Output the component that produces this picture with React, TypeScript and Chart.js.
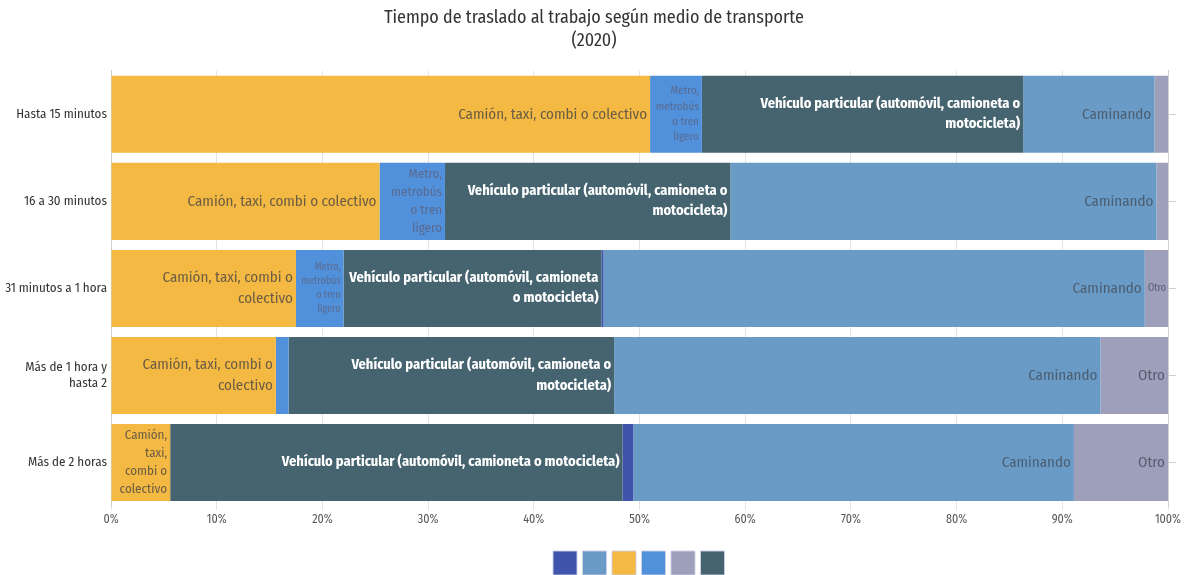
import React, { useEffect, useRef } from 'react';
import { Chart, registerables } from 'chart.js';

Chart.register(...registerables);

const FONT = "'Fira Sans Condensed', 'Liberation Sans Narrow', 'DejaVu Sans Condensed', 'Roboto Condensed', Roboto, sans-serif";

const titleLines = ['Tiempo de traslado al trabajo según medio de transporte', '(2020)'];
const categories = [
  'Hasta 15 minutos',
  '16 a 30 minutos',
  '31 minutos a 1 hora',
  ['Más de 1 hora y', 'hasta 2'],
  'Más de 2 horas',
];

const seriesNames = [
  'Camión, taxi, combi o colectivo',
  'Metro, metrobús o tren ligero',
  'Vehículo particular (automóvil, camioneta o motocicleta)',
  'Bicicleta',
  'Caminando',
  'Otro',
];

const camion = [51.0, 25.4, 17.5, 15.6, 5.6];
const metro = [4.9, 6.2, 4.5, 1.2, 0.0];
const vehiculo = [30.4, 27.0, 24.4, 30.8, 42.8];
const bicicleta = [0.0, 0.0, 0.2, 0.0, 1.0];
const caminando = [12.4, 40.3, 51.2, 46.0, 41.7];
const otro = [1.3, 1.1, 2.2, 6.4, 8.9];

const seriesValues = [camion, metro, vehiculo, bicicleta, caminando, otro];
const legendOrder = ['Bicicleta', 'Caminando', 'Camión, taxi, combi o colectivo', 'Metro, metrobús o tren ligero', 'Otro', 'Vehículo particular (automóvil, camioneta o motocicleta)'];

const colors = ['#f4b942', '#5190db', '#466470', '#3f55ad', '#6a9bc6', '#9d9fbb'];
const labelColors = ['#6b5d45', '#5a6b8f', '#ffffff', '#ffffff', '#4b5e72', '#585b6e'];
const labelWeights = ['400', '400', 'bold', '400', '400', '400'];
const labelMaxSizes = [15, 15, 14.4, 15, 15, 15];

function wrapText(ctx: CanvasRenderingContext2D, text: string, maxW: number): string[] | null {
  const words = text.split(' ');
  const lines: string[] = [];
  let cur = '';
  for (const w of words) {
    if (ctx.measureText(w).width > maxW) return null;
    const test = cur ? cur + ' ' + w : w;
    if (ctx.measureText(test).width <= maxW) {
      cur = test;
    } else {
      lines.push(cur);
      cur = w;
    }
  }
  if (cur) lines.push(cur);
  return lines;
}

const segLabels = {
  id: 'segLabels',
  afterDatasetsDraw(chart: any) {
    const ctx: CanvasRenderingContext2D = chart.ctx;
    chart.data.datasets.forEach((ds: any, i: number) => {
      const meta = chart.getDatasetMeta(i);
      if (meta.hidden) return;
      meta.data.forEach((el: any, j: number) => {
        const v = ds.data[j];
        if (!v) return;
        const p = el.getProps(['x', 'base', 'y', 'height'], true);
        const left = Math.min(p.x, p.base);
        const right = Math.max(p.x, p.base);
        const w = right - left;
        const pad = w < 40 ? 2 : 3;
        if (w - 2 * pad < 8) return;
        const sizes = [labelMaxSizes[i], 14, 13, 12, 11, 10, 9].filter((s, k, arr) => s <= labelMaxSizes[i] && arr.indexOf(s) === k);
        for (const size of sizes) {
          ctx.font = `${labelWeights[i]} ${size}px ${FONT}`;
          const lines = wrapText(ctx, ds.label, w - 2 * pad);
          if (!lines) continue;
          const lh = size * 1.4;
          if (lines.length * lh > p.height - 2) continue;
          ctx.save();
          ctx.fillStyle = labelColors[i];
          ctx.textAlign = 'right';
          ctx.textBaseline = 'middle';
          const startY = p.y - ((lines.length - 1) * lh) / 2;
          lines.forEach((ln, k) => {
            ctx.fillText(ln, right - pad, startY + k * lh);
          });
          ctx.restore();
          break;
        }
      });
    });
  },
};

export default function App() {
  const ref = useRef<HTMLCanvasElement>(null);
  useEffect(() => {
    if (!ref.current) return;
    Chart.defaults.font.family = FONT;
    const chart = new Chart(ref.current, {
      type: 'bar',
      data: {
        labels: categories as any,
        datasets: seriesNames.map((name, i) => ({
          label: name,
          data: seriesValues[i],
          backgroundColor: colors[i],
          borderWidth: 0,
          barPercentage: 0.885,
          categoryPercentage: 1,
        })),
      },
      options: {
        indexAxis: 'y',
        responsive: false,
        animation: false,
        layout: { padding: 0 },
        scales: {
          x: {
            stacked: true,
            min: 0,
            max: 100,
            ticks: {
              stepSize: 10,
              callback: (v: any) => v + '%',
              font: { size: 12 },
              color: '#555',
              padding: 2,
            },
            grid: { color: '#e3e3e3', tickLength: 4 },
            border: { display: false },
            afterFit: (s: any) => { s.height = 41; },
          },
          y: {
            stacked: true,
            ticks: { font: { size: 13 }, color: '#333', padding: 4 },
            grid: { display: false, drawTicks: false, tickLength: 0 },
            border: { display: true, color: '#d0d0d0' },
            afterFit: (s: any) => { s.width = 111; },
          },
          y2: {
            type: 'category',
            labels: categories as any,
            position: 'right',
            offset: true,
            ticks: { display: false },
            grid: { drawOnChartArea: false, offset: false, tickLength: 8, color: '#d0d0d0' },
            border: { display: true, color: '#d0d0d0' },
            afterFit: (s: any) => { s.width = 20; },
          },
        },
        plugins: {
          title: {
            display: true,
            text: titleLines,
            color: '#333',
            font: { size: 18, weight: 'normal', lineHeight: 1.3 },
            padding: { top: 6, bottom: 18 },
          },
          tooltip: { enabled: false },
          legend: {
            display: true,
            position: 'bottom',
            fullSize: false,
            labels: {
              boxWidth: 24,
              boxHeight: 24,
              padding: 4,
              font: { size: 3 },
              sort: (a: any, b: any) =>
                legendOrder.indexOf(seriesNames[a.datasetIndex]) - legendOrder.indexOf(seriesNames[b.datasetIndex]),
              generateLabels: (c: any) => {
                const items = (Chart.defaults.plugins.legend.labels as any).generateLabels(c);
                return items.map((it: any) => ({ ...it, text: '', strokeStyle: 'rgba(205,210,230,0.9)', lineWidth: 1 }));
              },
            },
          },
        },
      },
      plugins: [segLabels],
    } as any);
    return () => chart.destroy();
  }, []);
  return (
    <div style={{ position: 'fixed', left: 0, top: 0, width: 1188, height: 575, overflow: 'hidden', background: '#fff' }}>
      <canvas ref={ref} width={1188} height={585} style={{ display: 'block' }} />
    </div>
  );
}
